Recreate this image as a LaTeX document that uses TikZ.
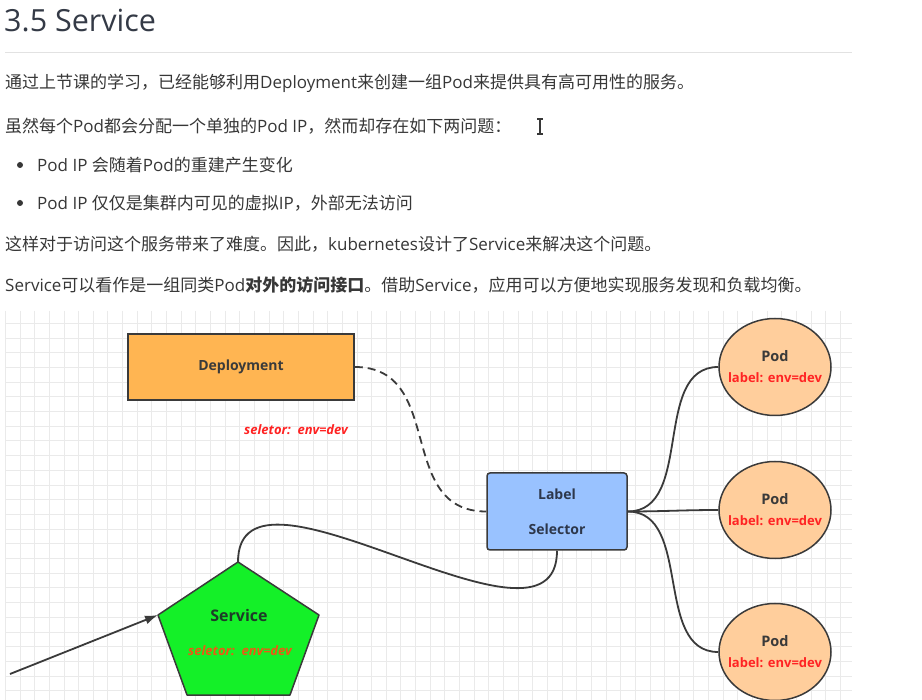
\documentclass[tikz,border=0pt]{standalone}
\usepackage{fontspec}
\setmainfont{Open Sans}
\newfontfamily\zhfont{Noto Sans CJK SC}
\newcommand\zh[1]{{\zhfont #1}}
\usetikzlibrary{arrows.meta,shapes.geometric}

\definecolor{inkgray}{RGB}{55,55,55}
\definecolor{titlegray}{RGB}{52,58,70}
\definecolor{rulegray}{RGB}{226,226,226}
\definecolor{gridgray}{RGB}{234,234,234}
\definecolor{edgegray}{RGB}{58,58,58}
\definecolor{deporange}{RGB}{255,181,82}
\definecolor{selblue}{RGB}{153,194,255}
\definecolor{seltext}{RGB}{45,55,75}
\definecolor{podorange}{RGB}{255,206,156}
\definecolor{labelred}{RGB}{255,35,35}
\definecolor{svcgreen}{RGB}{20,240,40}
\definecolor{svctext}{RGB}{30,60,40}
\definecolor{svcred}{RGB}{235,90,20}

\begin{document}
\begin{tikzpicture}[
  x=1pt, y=-1pt,
  >=Latex,
  every node/.style={inner sep=0pt},
  body text/.style={anchor=west,text=inkgray,font=\fontsize{17}{20}\selectfont},
  grid line/.style={draw=gridgray,line width=0.8pt},
  dep node/.style={rectangle,draw=edgegray,line width=1.5pt,fill=deporange,minimum width=226pt,minimum height=66pt,font=\bfseries\fontsize{14}{16}\selectfont,text=edgegray},
  sel node/.style={rectangle,rounded corners=3pt,draw=edgegray,line width=1.5pt,fill=selblue,minimum width=140pt,minimum height=77pt,align=center,font=\bfseries\fontsize{14}{35}\selectfont,text=seltext},
  pod node/.style={ellipse,draw=edgegray,line width=1.5pt,fill=podorange,minimum width=112pt,minimum height=97pt,align=center,font=\bfseries\fontsize{14.5}{21}\selectfont,text=edgegray},
  red label/.style={font=\bfseries\itshape\fontsize{13}{15}\selectfont,text=labelred},
  link/.style={draw=edgegray,line width=1.8pt},
]
\useasboundingbox[fill=white] (0,0) rectangle (922,700);

% heading and text
\node[anchor=base west,text=titlegray,font=\fontsize{30.5}{36}\selectfont] (title) at (4,32) {3.5 Service};
\draw[rulegray,line width=1pt] (5,53) -- (852,53);
\node[body text] (l1) at (5,83) {\zh{通过上节课的学习，已经能够利用}Deployment\zh{来创建一组}Pod\zh{来提供具有高可用性的服务。}};
\node[body text] (l2) at (5,126) {\zh{虽然每个}Pod\zh{都会分配一个单独的}Pod IP\zh{，然而却存在如下两问题：}};
\node[body text] (b1) at (37,165) {Pod IP \zh{会随着}Pod\zh{的重建产生变化}};
\node[body text] (b2) at (37,203) {Pod IP \zh{仅仅是集群内可见的虚拟}IP\zh{，外部无法访问}};
\node[body text] (l5) at (5,244) {\zh{这样对于访问这个服务带来了难度。因此，}kubernetes\zh{设计了}Service\zh{来解决这个问题。}};
\node[body text] (l6) at (5,285) {Service\zh{可以看作是一组同类}Pod\zh{\bfseries 对外的访问接口}\zh{。借助}Service\zh{，应用可以方便地实现服务发现和负载均衡。}};
\foreach \y in {165,203}
  \fill[inkgray] (20,\y) circle (3pt);
\draw[inkgray,line width=1.2pt] (540,119) -- (540,134) (537,119) -- (543,119) (537,134) -- (543,134);

% grid
\begin{scope}
\clip (5,311) rectangle (852,700);
\foreach \i in {0,...,58}
  \draw[grid line] ({5.3+14.65*\i},311) -- ++(0,389);
\foreach \j in {0,...,27}
  \draw[grid line] (5,{308.6+14.7*\j}) -- ++(847,0);
\end{scope}

% diagram
\node[dep node] (dep) at (241,367) {Deployment};
\node[red label] (depsel) at (296,430) {seletor:\ \ env=dev};
\node[sel node] (sel) at (557,511.5) {Label\\Selector};
\foreach \n/\y in {1/367,2/510,3/652}
  \node[pod node] (pod\n) at (775,\y) {Pod\\\makebox[0pt]{\color{labelred}\fontsize{13}{15}\selectfont label: env=dev}};

\coordinate (svctop) at (238,562);
\coordinate (svcright) at (319,615);
\coordinate (svcbr) at (290,695);
\coordinate (svcbl) at (187,695);
\coordinate (svcleft) at (158,615);
\draw[draw=edgegray,line width=1.5pt,fill=svcgreen,line join=round] (svctop) -- (svcright) -- (svcbr) -- (svcbl) -- (svcleft) -- cycle;
\node[font=\bfseries\fontsize{16}{18}\selectfont,text=svctext] (svc) at (239,616) {Service};
\node[red label,text=svcred] (svcsel) at (240,651) {seletor:\ \ env=dev};
\coordinate (client) at (10,674);

\draw[link,dash pattern=on 8pt off 5pt] (dep.east) to[out=0,in=180,looseness=1.2] (sel.west);
\foreach \n in {1,2,3}
  \draw[link] (sel.east) to[out=0,in=180] (pod\n.west);
\draw[link] (svctop) to[out=90,in=-90] (sel.south);
\draw[link,-{Latex[length=13pt,width=9pt]}] (client) -- (svcleft);
\end{tikzpicture}
\end{document}
